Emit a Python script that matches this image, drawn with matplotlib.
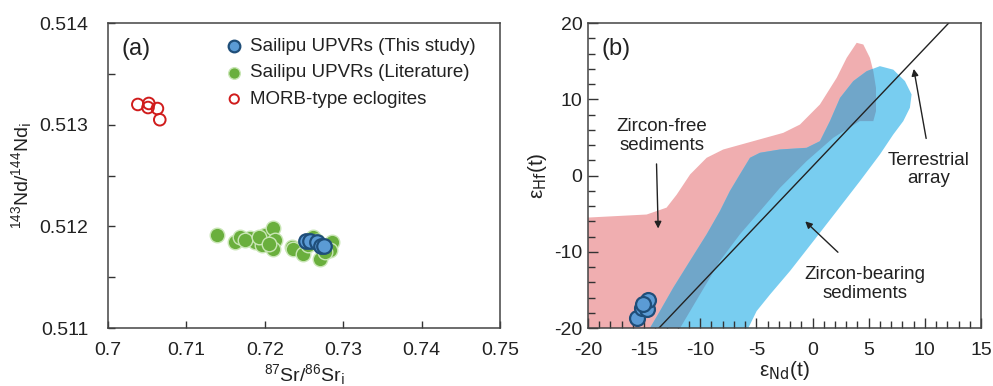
import matplotlib
matplotlib.use("Agg")
import matplotlib.pyplot as plt
from matplotlib.patches import Polygon
from matplotlib.ticker import MultipleLocator, FixedLocator, FuncFormatter

plt.rcParams['font.family'] = ['Liberation Sans', 'DejaVu Sans']
plt.rcParams['mathtext.default'] = 'regular'
plt.rcParams['axes.unicode_minus'] = False

# ---------------- Panel (a) data ----------------
morb_sr = [0.7038, 0.7052, 0.7051, 0.7063, 0.7066]
morb_nd = [0.51320, 0.51321, 0.51317, 0.51316, 0.51305]

lit_sr = [0.7139, 0.7162, 0.7168, 0.7181, 0.7188, 0.7196, 0.7200, 0.7210, 0.7213,
          0.7210, 0.7235, 0.7236, 0.7249, 0.7261, 0.7270, 0.7286, 0.7283, 0.7277,
          0.7175, 0.7192, 0.7205, 0.7255, 0.7266]
lit_nd = [0.511917, 0.511848, 0.511897, 0.511887, 0.511848, 0.511818, 0.511917, 0.511986, 0.511868,
          0.511779, 0.511799, 0.511779, 0.511729, 0.511897, 0.511680, 0.511848, 0.511769, 0.511749,
          0.511870, 0.511900, 0.511830, 0.511820, 0.511860]

this_sr = [0.7253, 0.7257, 0.7267, 0.7272, 0.7276]
this_nd = [0.511858, 0.511858, 0.511848, 0.511809, 0.511809]

# ---------------- Panel (b) data ----------------
zf_x = [-21, -20, -14.77, -13.0, -12.1, -10.9, -9.43, -7.95, -5.28, -2.61, -1.12, 0.66, 2.15,
        3.04, 3.93, 4.52, 5.11, 5.41, 5.65, 5.65, 5.41, 4.2, 1.84, -0.53, -2.9, -4.68,
        -6.47, -8.25, -10.03, -11.8, -12.2, -21]
zf_y = [-5.5, -5.5, -5.1, -4.2, -2.5, 0.16, 2.34, 3.43, 4.52, 5.61, 6.7, 9.34, 12.83,
        15.45, 17.42, 17.2, 15.45, 13.7, 11.5, 8.46, 7.15, 7.15, 4.96, 1.9, -1.6, -4.66,
        -7.7, -11.2, -15.6, -20.0, -21, -21]

zb_x = [-14.8, -14.48, -13.59, -12.4, -10.92, -9.43, -8.25, -7.36, -6.47, -5.57, -4.68, -2.9,
        -0.53, 0.66, 1.55, 2.45, 3.63, 4.82, 6.0, 7.19, 8.23, 8.82, 8.67, 8.08, 7.19,
        6.0, 4.22, 2.15, 0.07, -2.0, -3.79, -4.98, -5.72, -5.9]
zb_y = [-21, -20.0, -17.77, -14.7, -11.2, -7.7, -4.66, -2.03, 0.16, 2.34, 3.0, 3.43,
        3.65, 4.52, 7.15, 10.2, 12.4, 13.7, 14.36, 13.9, 12.4, 10.65, 8.9, 7.15, 5.4,
        2.78, -0.72, -4.66, -8.6, -12.5, -15.6, -17.77, -20.0, -21]

ta_x = [-13.68, 12.12]
ta_y = [-20, 20]

b_nd = [-15.66, -15.22, -14.77, -14.63, -15.07]
b_hf = [-18.65, -17.34, -17.56, -16.25, -16.9]

# ---------------- Figure ----------------
fig = plt.figure(figsize=(9.93, 3.86), dpi=100)
ax1 = fig.add_axes([0.1088, 0.150, 0.3948, 0.790])
ax2 = fig.add_axes([0.5921, 0.150, 0.3958, 0.790])

blue_face = '#5b9bd5'
blue_edge = '#1f4e79'
green = '#6aaf3d'
red = '#d01c1c'
txt = '#222222'

ax1.scatter(lit_sr, lit_nd, s=110, c=green, edgecolors='#c9e6b5', linewidths=1.0,
            zorder=3, label='Sailipu UPVRs (Literature)')
ax1.scatter(this_sr, this_nd, s=110, c=blue_face, edgecolors=blue_edge, linewidths=1.6,
            zorder=4, label='Sailipu UPVRs (This study)')
ax1.scatter(morb_sr, morb_nd, s=70, facecolors='none', edgecolors=red, linewidths=1.4,
            zorder=3, label='MORB-type eclogites')

ax1.set_xlim(0.7, 0.75)
ax1.set_ylim(0.511, 0.514)
ax1.xaxis.set_major_locator(FixedLocator([0.70, 0.71, 0.72, 0.73, 0.74, 0.75]))
ax1.xaxis.set_major_formatter(FuncFormatter(lambda v, p: '%g' % round(v, 3)))
ax1.yaxis.set_major_locator(FixedLocator([0.511, 0.512, 0.513, 0.514]))
ax1.yaxis.set_minor_locator(FixedLocator([0.5115, 0.5125, 0.5135]))
ax1.yaxis.set_major_formatter(FuncFormatter(lambda v, p: '%.3f' % v))
ax1.tick_params(axis='both', which='both', direction='in', length=5, width=1,
                labelsize=14, colors='#333333', labelcolor=txt)
ax1.tick_params(axis='x', which='both', pad=10)
ax1.tick_params(axis='y', which='both', pad=14)
ax1.set_xlabel(r'$^{87}$Sr/$^{86}$Sr$_{\rm i}$', fontsize=14, color=txt, labelpad=2)
ax1.set_ylabel(r'$^{143}$Nd/$^{144}$Nd$_{\rm i}$', fontsize=14, color=txt)
ax1.yaxis.set_label_coords(-0.19, 0.5)
ax1.text(0.035, 0.915, '(a)', transform=ax1.transAxes, fontsize=17, color=txt,
         va='center', ha='left')

handles, labels = ax1.get_legend_handles_labels()
order = [1, 0, 2]
leg = ax1.legend([handles[i] for i in order], [labels[i] for i in order],
                 loc='upper left', bbox_to_anchor=(0.255, 0.995), frameon=False,
                 fontsize=13.5, handletextpad=0.15, labelspacing=0.5,
                 markerscale=0.8, borderaxespad=0.3, handlelength=1.4)
for t in leg.get_texts():
    t.set_color(txt)

for sp in ax1.spines.values():
    sp.set_color('#444444')
    sp.set_linewidth(1.1)

# panel b
pink = '#f0aeb0'
lblue = '#78cdf0'
overlap = '#70a6c9'

p_pink = Polygon(list(zip(zf_x, zf_y)), closed=True, facecolor=pink, edgecolor='none', zorder=1)
ax2.add_patch(p_pink)
p_blue = Polygon(list(zip(zb_x, zb_y)), closed=True, facecolor=lblue, edgecolor='none', zorder=1.5)
ax2.add_patch(p_blue)
p_over = Polygon(list(zip(zf_x, zf_y)), closed=True, facecolor=overlap, edgecolor='none', zorder=2)
ax2.add_patch(p_over)
p_over.set_clip_path(p_blue)

ax2.plot(ta_x, ta_y, color=txt, lw=1.0, zorder=3)

ax2.scatter(b_nd, b_hf, s=115, c=blue_face, edgecolors=blue_edge, linewidths=1.6, zorder=4)

ax2.set_xlim(-20, 15)
ax2.set_ylim(-20, 20)
ax2.xaxis.set_major_locator(MultipleLocator(5))
ax2.xaxis.set_minor_locator(MultipleLocator(1))
ax2.yaxis.set_major_locator(MultipleLocator(10))
ax2.yaxis.set_minor_locator(MultipleLocator(2))
ax2.tick_params(axis='both', which='both', direction='in', width=1,
                labelsize=14, colors='#333333', labelcolor=txt)
ax2.tick_params(axis='x', which='both', pad=10)
ax2.tick_params(axis='y', which='both', pad=4)
ax2.tick_params(axis='both', which='major', length=7)
ax2.tick_params(axis='both', which='minor', length=5)
ax2.set_xlabel(r'$\epsilon_{\rm Nd}$(t)', fontsize=15, color=txt, labelpad=0)
ax2.set_ylabel(r'$\epsilon_{\rm Hf}$(t)', fontsize=15, color=txt, labelpad=4)
ax2.text(0.035, 0.915, '(b)', transform=ax2.transAxes, fontsize=17, color=txt,
         va='center', ha='left')

fs_ann = 13.5
ax2.text(-13.4, 5.2, 'Zircon-free\nsediments', fontsize=fs_ann, color=txt,
         ha='center', va='center', linespacing=1.1, zorder=5)
ax2.annotate('', xy=(-13.74, -7.3), xytext=(-13.9, 1.9),
             arrowprops=dict(arrowstyle='-|>', color=txt, lw=1.0,
                             mutation_scale=10), zorder=5)

ax2.text(10.3, 0.85, 'Terrestrial\narray', fontsize=fs_ann, color=txt,
         ha='center', va='center', linespacing=1.1, zorder=5)
ax2.annotate('', xy=(8.97, 14.36), xytext=(10.16, 4.52),
             arrowprops=dict(arrowstyle='-|>', color=txt, lw=1.0,
                             mutation_scale=10), zorder=5)

ax2.text(4.67, -14.2, 'Zircon-bearing\nsediments', fontsize=fs_ann, color=txt,
         ha='center', va='center', linespacing=1.1, zorder=5)
ax2.annotate('', xy=(-0.83, -5.75), xytext=(2.44, -10.3),
             arrowprops=dict(arrowstyle='-|>', color=txt, lw=1.0,
                             mutation_scale=10), zorder=5)

for sp in ax2.spines.values():
    sp.set_color('#444444')
    sp.set_linewidth(1.1)
    sp.set_zorder(6)

fig.savefig('out.png', dpi=100)
